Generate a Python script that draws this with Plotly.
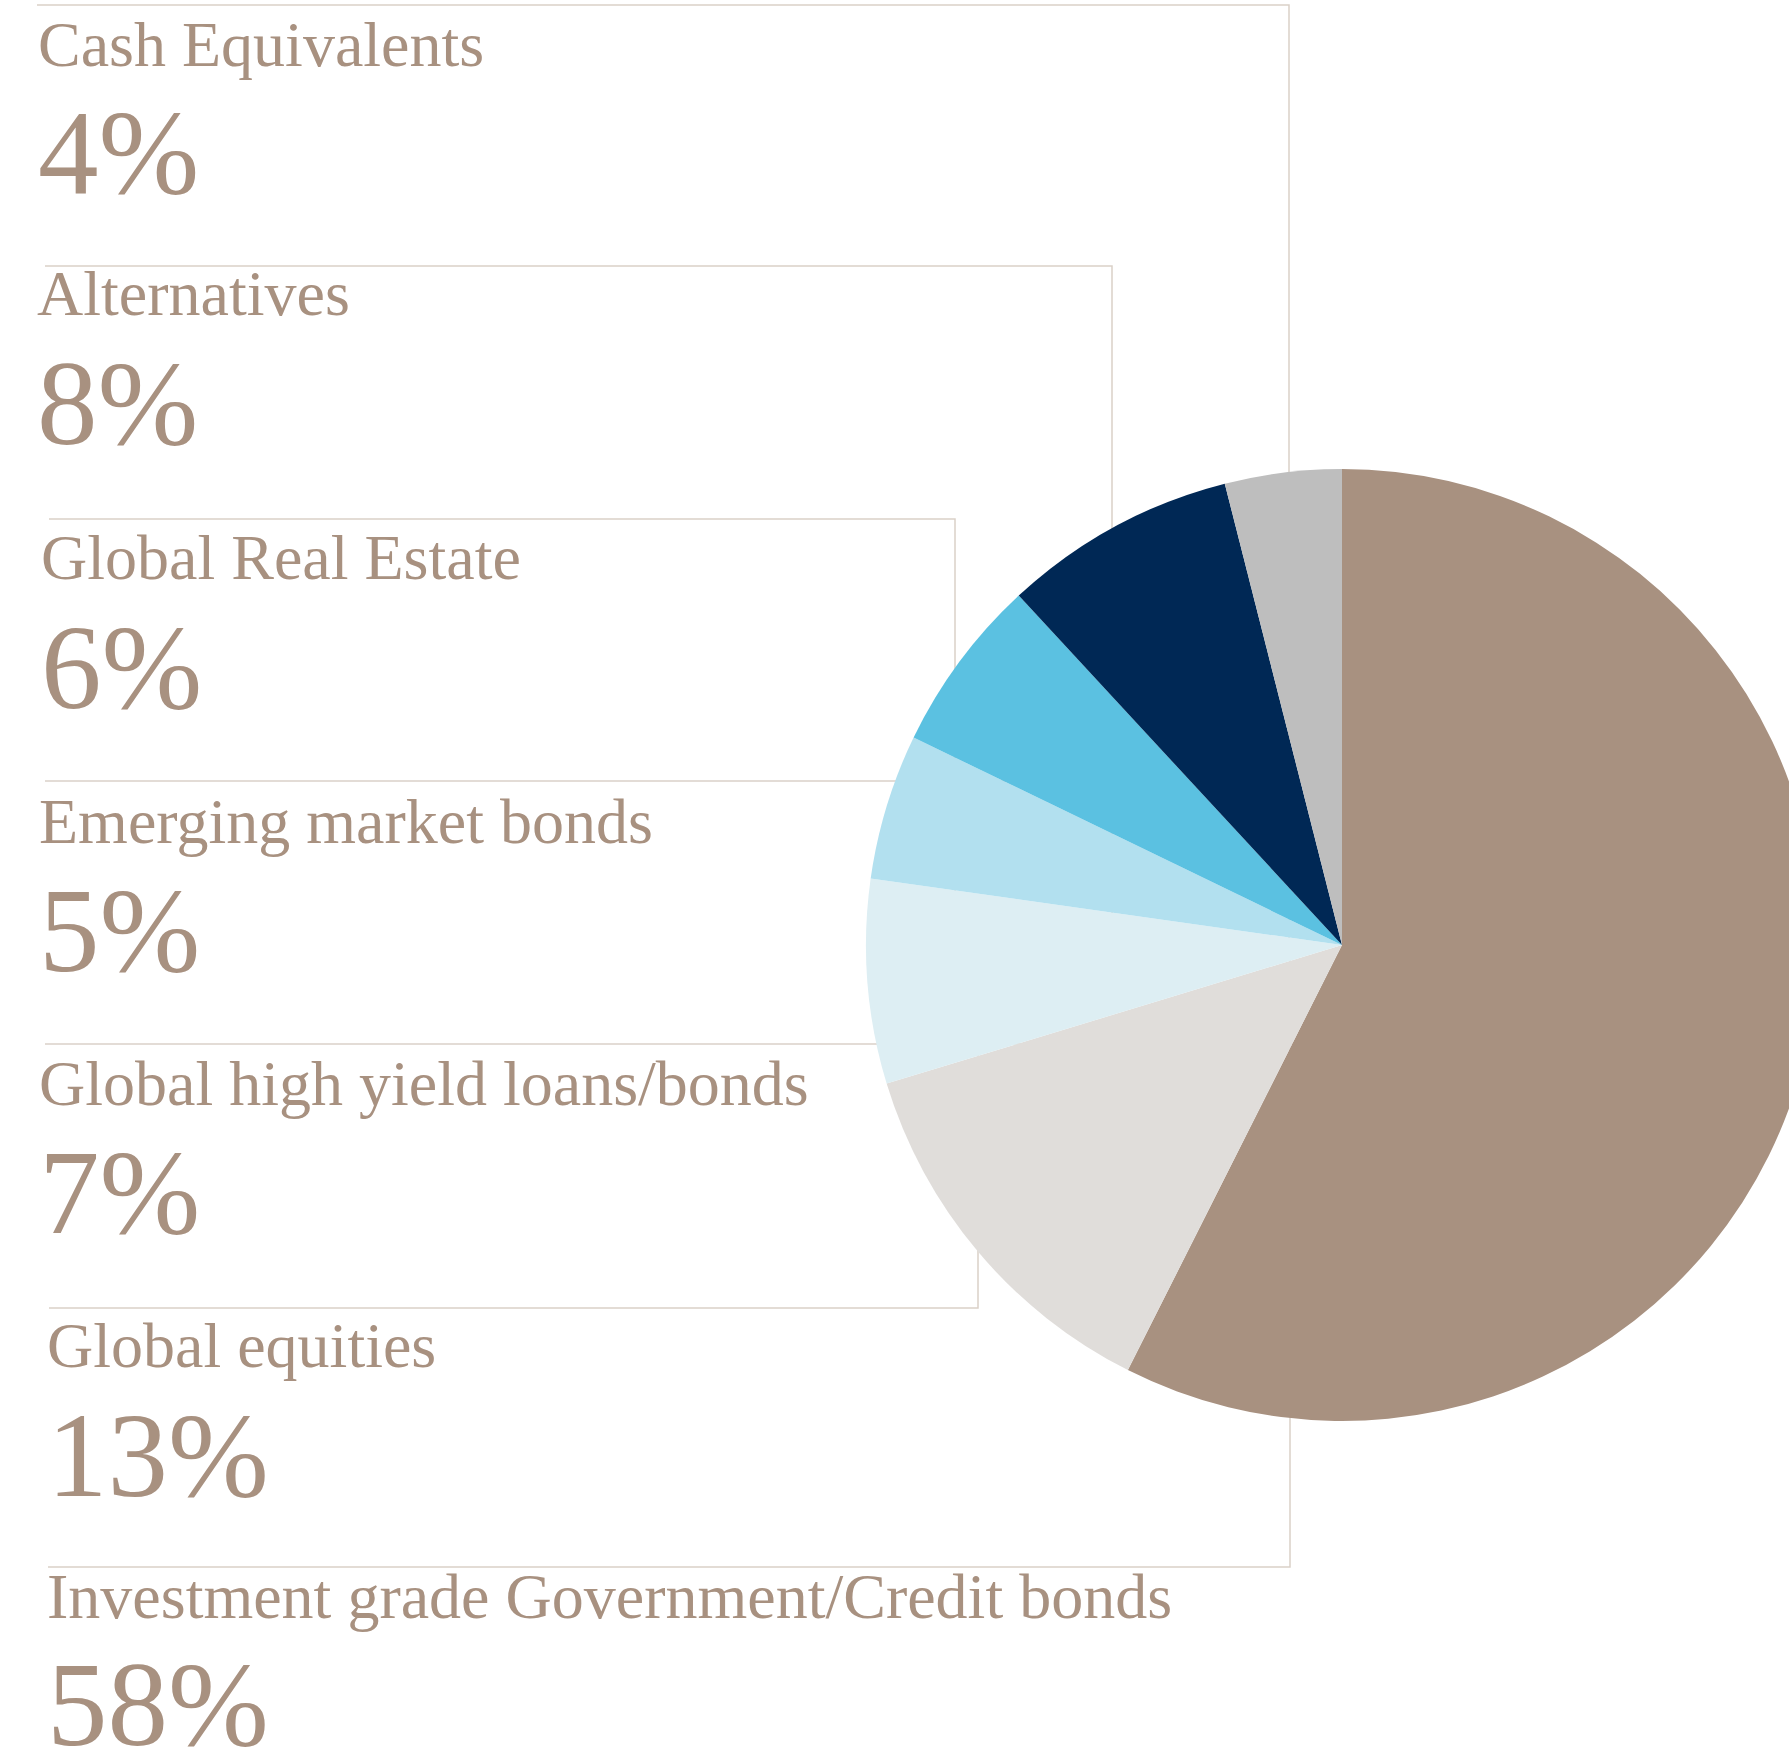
import plotly.graph_objects as go

# Allocation shares, listed clockwise from 12 o'clock
categories = [
    "Investment grade Government/Credit bonds",
    "Global equities",
    "Global high yield loans/bonds",
    "Emerging market bonds",
    "Global Real Estate",
    "Alternatives",
    "Cash Equivalents",
]
shares = [58, 13, 7, 5, 6, 8, 4]
slice_colors = ["#A89180", "#E0DDDA", "#DDEEF3", "#B2E0EF", "#5BC1E1", "#002855", "#BEBEBE"]

# Canvas and pie geometry (pixels, origin top-left)
W, H = 1830, 1753
CX, CY, R = 1342, 945, 476

TEXT_COLOR = "#A89180"
RULE_COLOR = "#DAD1C8"
FONT = "Liberation Serif"
LABEL_SIZE = 64
VALUE_SIZE = 121

# Text rows, top to bottom (reverse of the clockwise slice order)
row_order = list(range(len(categories)))[::-1]
label_baseline = [66, 315, 579, 843, 1105, 1367, 1618]
value_baseline = [193, 444, 708, 971, 1233, 1496, 1745]
text_left = [36, 35, 39, 37, 37, 45, 45]
rule_y = [5, 266, 519, 781, 1044, 1308, 1567]
rule_x0 = [37, 45, 49, 45, 45, 49, 48]
rule_corner_x = [1289, 1112, 955, None, None, 978, 1290]


def px(x):
    return x / W


def py(y):
    return 1 - y / H


fig = go.Figure(
    go.Pie(
        labels=categories,
        values=shares,
        sort=False,
        direction="clockwise",
        rotation=0,
        marker=dict(colors=slice_colors, line=dict(width=0)),
        textinfo="none",
        hoverinfo="label+value",
        showlegend=False,
        domain=dict(x=[px(CX - R), px(CX + R)], y=[py(CY + R), py(CY - R)]),
    )
)

annotations = []
shapes = []
for row, idx in enumerate(row_order):
    # Category name
    annotations.append(
        dict(
            x=px(text_left[row]), y=py(label_baseline[row] - 0.3375 * LABEL_SIZE),
            xref="paper", yref="paper", xanchor="left", yanchor="middle",
            text=categories[idx], showarrow=False,
            font=dict(family=FONT, size=LABEL_SIZE, color=TEXT_COLOR),
        )
    )
    # Share value
    annotations.append(
        dict(
            x=px(text_left[row]), y=py(value_baseline[row] - 0.3375 * VALUE_SIZE),
            xref="paper", yref="paper", xanchor="left", yanchor="middle",
            text=f"{shares[idx]}%", showarrow=False,
            font=dict(family=FONT, size=VALUE_SIZE, color=TEXT_COLOR),
        )
    )
    # Leader rule running from the row to its slice (tucked under the pie)
    y0 = rule_y[row]
    if rule_corner_x[row] is None:
        path = f"M {px(rule_x0[row])} {py(y0)} L {px(CX)} {py(y0)}"
    else:
        xc = rule_corner_x[row]
        path = (f"M {px(rule_x0[row])} {py(y0)} L {px(xc)} {py(y0)} "
                f"L {px(xc)} {py(CY)}")
    shapes.append(
        dict(type="path", path=path, xref="paper", yref="paper",
             line=dict(color=RULE_COLOR, width=1.5), layer="below")
    )

fig.update_layout(
    width=W,
    height=H,
    margin=dict(l=0, r=0, t=0, b=0),
    paper_bgcolor="white",
    plot_bgcolor="white",
    annotations=annotations,
    shapes=shapes,
    showlegend=False,
)

fig.write_html(
    "out.html",
    post_script=(
        "document.documentElement.style.overflow='hidden';"
        "document.body.style.overflow='hidden';"
        "document.body.style.margin='0';"
    ),
)
